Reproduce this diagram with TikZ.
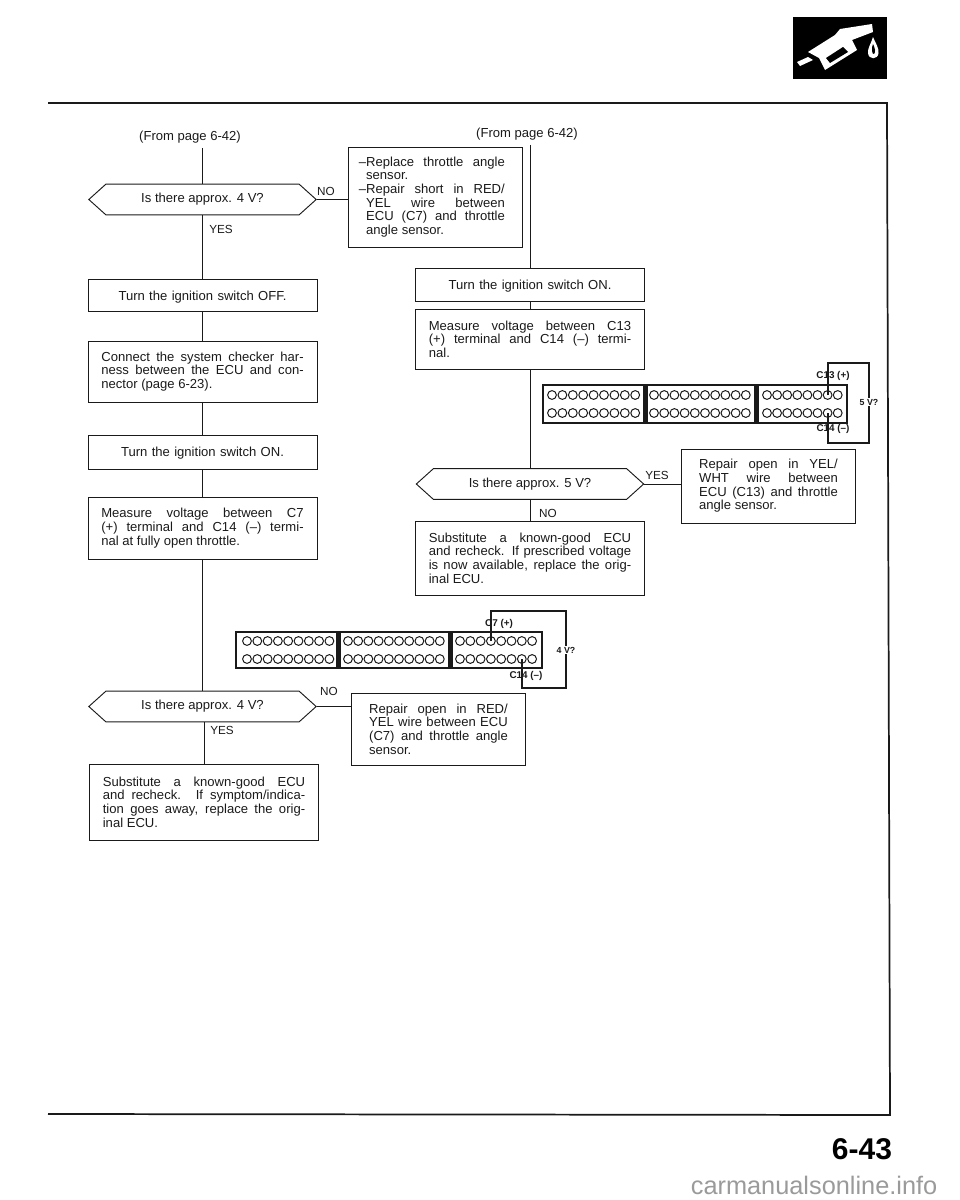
\documentclass[tikz,border=0pt]{standalone}
\usepackage{fontspec}
\setmainfont{Liberation Sans}
\usetikzlibrary{shapes.symbols}
\definecolor{inkdark}{HTML}{1A1A1A}
\definecolor{inkwater}{HTML}{9A9A9A}
\tikzset{
  bodytext/.style={font=\fontsize{9.8}{10.25}\selectfont,text=inkdark},
  flowbox/.style={draw=inkdark,line width=0.7pt,rectangle,bodytext,inner ysep=0pt,align=justify},
  leftbox/.style={flowbox,inner xsep=10pt,text width=151.75pt},
  narrowbox/.style={flowbox,inner xsep=13.5pt,text width=104pt},
  centerbox/.style={flowbox,inner xsep=11pt,text width=149.75pt,align=center,text depth=0pt},
  question/.style={draw=inkdark,line width=0.7pt,signal,signal to=east and west,signal pointer angle=84,
    minimum width=170.5pt,minimum height=23pt,inner sep=0pt,bodytext},
  flowline/.style={draw=inkdark,line width=0.7pt},
  answer/.style={font=\fontsize{8.8}{10}\selectfont,text=inkdark},
  pinhole/.style={draw=inkdark,line width=0.75pt},
  wire/.style={draw=inkdark,line width=0.8pt},
  pinlabel/.style={font=\fontsize{7.4}{8}\selectfont\bfseries,text=inkdark,inner sep=0pt},
  voltlabel/.style={font=\fontsize{6.6}{7}\selectfont\bfseries,text=inkdark,fill=white,inner sep=1pt},
}
\begin{document}
\begin{tikzpicture}[x=0.75pt,y=-0.75pt]
  \useasboundingbox (0,0) rectangle (960,1200);

  % ---- Page frame and fuel nozzle logo ----------------------
  \draw[inkdark,line width=1.3pt] (48,103) -- (887,103) -- (890,1115) -- (48,1114);
  \fill[black] (793,17) rectangle (887,79);
  % Nozzle
  \fill[white] (797,62) -- (808,57) -- (813,60) -- (800,66) -- cycle;
  \fill[white] (808,52) -- (835,35) -- (840,29) -- (872,24) -- (873,32) -- (852,40) -- (857,50)
    -- (825,70) -- (819,58) -- cycle;
  \fill[black] (826,58) -- (843,47) -- (848,52) -- (830,63) -- cycle;
  % Drop
  \fill[white] (873,37) .. controls (876,44) and (879,48) .. (878.5,53)
    .. controls (878,60) and (868.5,60) .. (868,53) .. controls (867.5,48) and (871,44) .. (873,37);
  \fill[black] (873,44) .. controls (875,48) and (876,52) .. (874,54)
    .. controls (872,55) and (871,48) .. (873,44);

  % ---- Left column -------------------------------------------
  \node[bodytext] (fromL) at (190,137) {(From page 6-42)};
  \node[question] (hexA) at (202.5,199.5) {Is there approx. 4 V?};
  \node[centerbox,minimum height=24pt] (offbox) at (202.5,295.5) {Turn the ignition switch OFF.};
  \node[leftbox,minimum height=45.75pt] (checker) at (202.5,371.5) {Connect the system checker har-\linebreak
    ness between the ECU and con-\linebreak nector (page 6-23).};
  \node[centerbox,minimum height=25.5pt] (onbox) at (202.5,452) {Turn the ignition switch ON.};
  \node[leftbox,minimum height=46.5pt] (measureA) at (202.5,528) {Measure voltage between C7\linebreak
    (+) terminal and C14 (--) termi-\linebreak nal at fully open throttle.};
  \node[question] (hexB) at (202.5,706.5) {Is there approx. 4 V?};
  \node[leftbox,minimum height=57pt] (ecuA) at (204,802) {Substitute a known-good ECU\linebreak
    and recheck. If symptom/indica-\linebreak tion goes away, replace the orig-\linebreak inal ECU.};
  \node[answer] (yesA) at (221,229) {YES};
  \node[answer] (noA) at (326,191) {NO};
  \node[answer] (yesB) at (222,730) {YES};
  \node[answer] (noB) at (329,691) {NO};

  % ---- Right column ------------------------------------------
  \node[bodytext] (fromR) at (527,134) {(From page 6-42)};
  \node[narrowbox,minimum height=75pt] (sensorbox) at (435.5,197) {\llap{--}Replace throttle angle\linebreak sensor.\newline
    \llap{--}Repair short in RED/\linebreak YEL wire between\linebreak
    ECU (C7) and throttle\linebreak angle sensor.};
  \node[centerbox,minimum height=24.75pt] (onboxR) at (530,284.5) {Turn the ignition switch ON.};
  \node[leftbox,minimum height=45pt] (measureB) at (530,339) {Measure voltage between C13\linebreak
    (+) terminal and C14 (--) termi-\linebreak nal.};
  \node[question] (hexC) at (530,484) {Is there approx. 5 V?};
  \node[narrowbox,minimum height=55.5pt] (yelbox) at (768.5,486) {Repair open in YEL/\linebreak WHT wire between\linebreak
    ECU (C13) and throttle\linebreak angle sensor.};
  \node[leftbox,minimum height=55.5pt] (ecuB) at (530,558) {Substitute a known-good ECU\linebreak
    and recheck. If prescribed voltage\linebreak is now available, replace the orig-\linebreak inal ECU.};
  \node[narrowbox,minimum height=54pt] (redbox) at (438.5,729) {Repair open in RED/\linebreak YEL wire between ECU\linebreak
    (C7) and throttle angle\linebreak sensor.};
  \node[answer] (yesC) at (657,475) {YES};
  \node[answer] (noC) at (548,513) {NO};

  % ---- Connectors of the flow --------------------------------
  \draw[flowline] (hexA.north |- fromL.south) -- (hexA.north);
  \draw[flowline] (hexA.south) -- (offbox.north);
  \draw[flowline] (offbox.south) -- (checker.north);
  \draw[flowline] (checker.south) -- (onbox.north);
  \draw[flowline] (onbox.south) -- (measureA.north);
  \draw[flowline] (measureA.south) -- (hexB.north);
  \draw[flowline] (hexB.south -| ecuA.north) -- (ecuA.north);
  \draw[flowline] (hexA.east) -- (hexA.east -| sensorbox.west);
  \draw[flowline] (hexB.east) -- (hexB.east -| redbox.west);
  \draw[flowline] (onboxR.north |- fromR.south) -- (onboxR.north);
  \draw[flowline] (onboxR.south) -- (measureB.north);
  \draw[flowline] (measureB.south) -- (hexC.north);
  \draw[flowline] (hexC.south) -- (ecuB.north);
  \draw[flowline] (hexC.east) -- (hexC.east -| yelbox.west);

  % ---- Test connector, 5 V -----------------------------------
  \draw[inkdark,line width=0.9pt] (543,385) rectangle (847,423);
  \fill[inkdark] (642.5,385) rectangle (647.5,423);
  \fill[inkdark] (753.5,385) rectangle (758.5,423);
  \foreach \y in {395,413}
    \foreach \s/\d/\n in {552/10.4/9,654/10.2/10,767/10.1/8}
      \foreach \i in {1,...,\n}
        \draw[pinhole] ({\s+\d*(\i-1)},\y) circle (3.3pt);
  \coordinate (pinC13) at (828,395);
  \coordinate (pinC14A) at (828,413);
  \coordinate (wireA) at (869,363);
  \coordinate (wireB) at (869,443);
  \draw[wire] (pinC13) |- (wireA) -- (wireB) -| (pinC14A);
  \node[pinlabel] (labelC13) at (833,376) {C13 (+)};
  \node[pinlabel] (labelC14A) at (833,429) {C14 (--)};
  \node[voltlabel] (labelFive) at (869,402) {5 V?};

  % ---- Test connector, 4 V -----------------------------------
  \draw[inkdark,line width=0.9pt] (236,632) rectangle (542,668);
  \fill[inkdark] (336,632) rectangle (341,668);
  \fill[inkdark] (447.5,632) rectangle (452.5,668);
  \foreach \y in {641,659}
    \foreach \s/\d/\n in {247/10.3/9,348/10.2/10,460/10.3/8}
      \foreach \i in {1,...,\n}
        \draw[pinhole] ({\s+\d*(\i-1)},\y) circle (3.3pt);
  \coordinate (pinC7) at (491,641);
  \coordinate (pinC14B) at (522,659);
  \coordinate (wireC) at (566,611);
  \coordinate (wireD) at (566,688);
  \draw[wire] (pinC7) |- (wireC) -- (wireD) -| (pinC14B);
  \node[pinlabel] (labelC7) at (499,624) {C7 (+)};
  \node[pinlabel] (labelC14B) at (526,676) {C14 (--)};
  \node[voltlabel] (labelFour) at (566,650) {4 V?};

  % ---- Page number -------------------------------------------
  \node[font=\fontsize{22.5}{24}\selectfont\bfseries,text=black] (pagenum) at (862,1149) {6-43};
  \node[font=\fontsize{19}{21}\selectfont,text=inkwater,anchor=east] (source) at (942,1185) {carmanualsonline.info};
\end{tikzpicture}
\end{document}
